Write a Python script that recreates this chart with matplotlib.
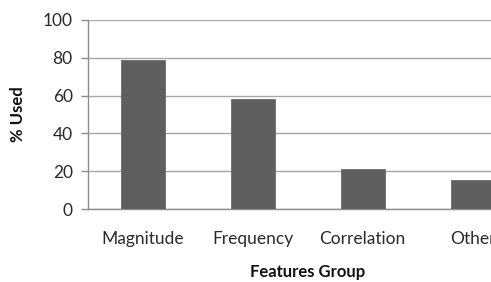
import matplotlib
matplotlib.use("Agg")
import matplotlib.pyplot as plt

categories = ["Magnitude", "Frequency", "Correlation", "Other"]
values = [78.7, 58.0, 21.2, 15.5]
yticks = [0, 20, 40, 60, 80, 100]

plt.rcParams['font.family'] = ['Lato', 'DejaVu Sans']

W, H = 491, 282
fig = plt.figure(figsize=(W/100, H/100), dpi=100)
# axes extends beyond right edge of figure (cropped like the reference)
left, right, top, bottom = 88, 527.5, 20, 209
ax = fig.add_axes([left/W, 1-bottom/H, (right-left)/W, (bottom-top)/H])

x = list(range(len(categories)))
ax.bar(x, values, width=0.4, color='#5f5f5f', edgecolor='#6a6a6a', linewidth=0.6, zorder=3)
ax.set_xlim(-0.5, len(categories)-0.5)
ax.set_ylim(0, 100)
ax.set_yticks(yticks)
ax.set_yticklabels([str(t) for t in yticks])
ax.set_xticks(x)
ax.set_xticklabels(categories)

ax.yaxis.grid(True, color='#a8a8a8', linewidth=1.0, zorder=0)
ax.set_axisbelow(True)
for s in ['top', 'right']:
    ax.spines[s].set_visible(False)
ax.spines['left'].set_color('#8c8c8c')
ax.spines['bottom'].set_color('#8c8c8c')
ax.spines['left'].set_linewidth(1.0)
ax.spines['bottom'].set_linewidth(1.0)

ax.tick_params(axis='y', length=5, color='#8c8c8c', width=1.0, pad=6, labelsize=12.5, labelcolor='#2a2a2a')
ax.tick_params(axis='x', length=0, pad=16, labelsize=12.5, labelcolor='#2a2a2a')

ax.set_xlabel("Features Group", fontsize=12, fontweight='bold', color='#111111', labelpad=12)
ax.set_ylabel("% Used", fontsize=12, fontweight='bold', color='#111111', labelpad=12)

fig.savefig("out.png", dpi=100)
